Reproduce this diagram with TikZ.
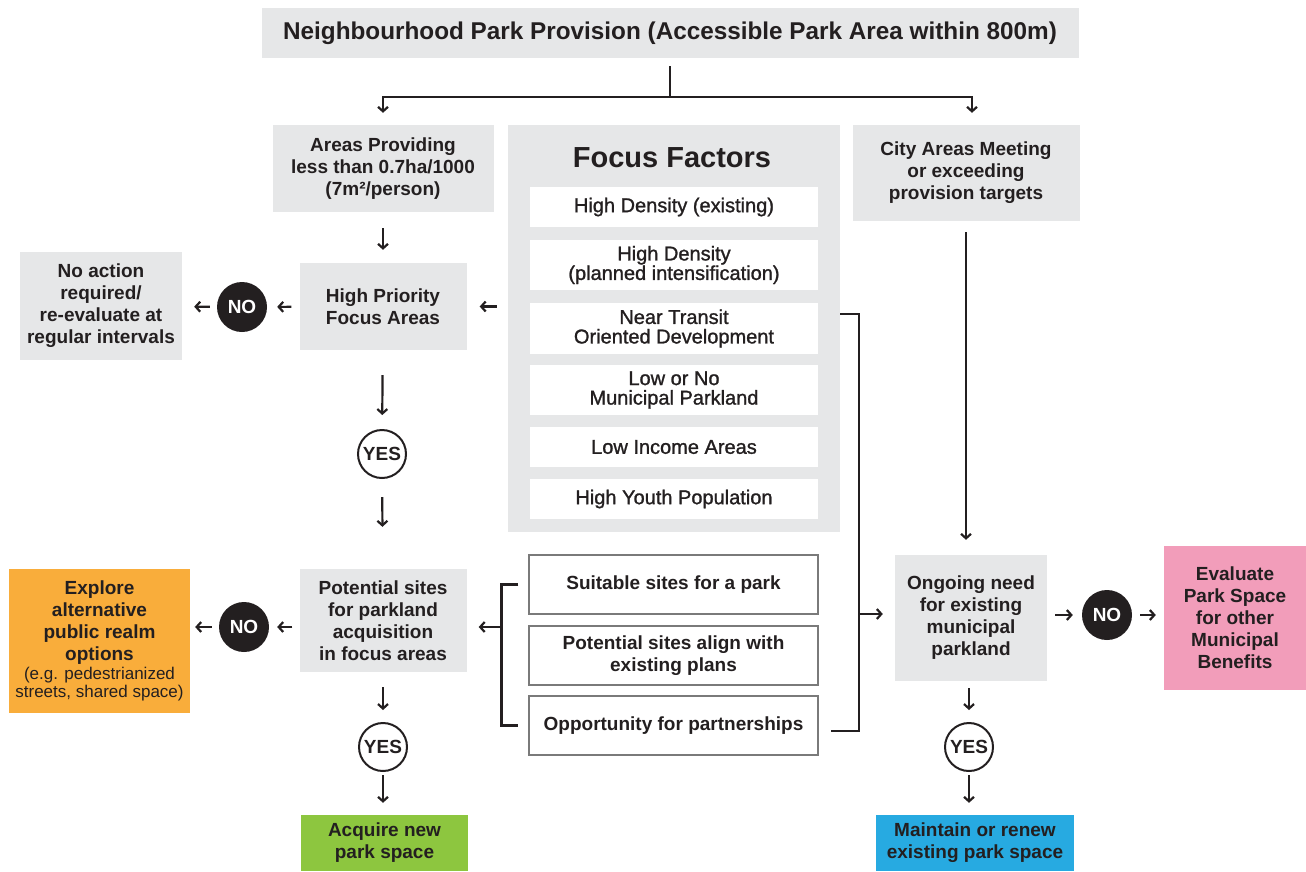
\documentclass[tikz,border=0pt]{standalone}
\usepackage{fontspec}
\setmainfont{Liberation Sans}
\newfontfamily\medfont[FakeBold=1.2]{Liberation Sans}
\usepackage{tikz}
\usetikzlibrary{arrows.meta}
\definecolor{ParkInk}{HTML}{231F20}
\definecolor{ParkGray}{HTML}{E6E7E8}
\definecolor{ParkEdge}{HTML}{7A7A7A}
\definecolor{ParkOrange}{HTML}{F9AD3B}
\definecolor{ParkGreen}{HTML}{8DC63F}
\definecolor{ParkBlue}{HTML}{27AAE1}
\definecolor{ParkPink}{HTML}{F29DBA}
\tikzset{
  flowtext/.style={font=\fontsize{19}{22}\selectfont\bfseries, text=ParkInk, align=center},
  flowbox/.style={flowtext, fill=ParkGray, inner sep=0pt},
  factorbox/.style={font=\medfont\fontsize{20}{19.5}\selectfont, text=ParkInk, fill=white, align=center, minimum width=288pt, inner sep=0pt},
  sitebox/.style={flowtext, fill=white, draw=ParkEdge, line width=1.2pt, minimum width=289pt, minimum height=59pt, inner sep=0pt},
  nodot/.style={circle, fill=ParkInk, text=white, minimum size=50pt, inner sep=0pt, font=\fontsize{19}{22}\selectfont\bfseries},
  yesdot/.style={circle, draw=ParkInk, line width=2pt, fill=white, text=ParkInk, minimum size=48pt, inner sep=0pt, font=\fontsize{19}{22}\selectfont\bfseries},
  flowline/.style={draw=ParkInk, line width=2.2pt},
  flowarrow/.style={flowline, -{Straight Barb[length=4.5pt,width=10pt]}}
}
\newcommand{\parknote}{\mdseries\fontsize{17}{18}\selectfont}

\begin{document}
\begin{tikzpicture}[x=1pt, y=-1pt]
\useasboundingbox (0,0) rectangle (1306,871);
\node[flowbox, font=\fontsize{24.3}{28}\selectfont\bfseries, minimum width=817pt, minimum height=50pt] (title) at (670,33) {Neighbourhood Park Provision (Accessible Park Area within 800m)};
\node[flowbox, minimum width=221pt, minimum height=87pt] (areas) at (383,168.5) {Areas Providing\\less than 0.7ha/1000\\(7m²/person)};
\node[flowbox, minimum width=167pt, minimum height=87pt] (focus) at (383,306.5) {High Priority\\Focus Areas};
\node[nodot] (no1) at (242,307) {NO};
\node[flowbox, minimum width=162pt, minimum height=108pt] (noaction) at (101,306) {No action\\required/\\re-evaluate at\\regular intervals};
\node[yesdot] (yes1) at (382,454) {YES};
\node[flowbox, minimum width=167pt, minimum height=103pt] (sites) at (383,620.5) {Potential sites\\for parkland\\acquisition\\in focus areas};
\node[nodot] (no2) at (244,627) {NO};
\node[flowbox, fill=ParkOrange, minimum width=181pt, minimum height=144pt] (explore) at (99.5,641) {Explore\\alternative\\public realm\\options\\[-3pt]\parknote (e.g. pedestrianized\\[-4pt]\parknote streets, shared space)};
\node[yesdot] (yes2) at (383,747) {YES};
\node[flowbox, fill=ParkGreen, minimum width=167pt, minimum height=56pt] (acquire) at (384.5,843) {Acquire new\\park space};

\node[fill=ParkGray, minimum width=332pt, minimum height=407pt, inner sep=0pt] (panel) at (674,328.5) {};
\node[flowtext, font=\fontsize{29}{32}\selectfont\bfseries] (factors) at (672,158) {Focus Factors};
\node[factorbox, minimum height=40pt] (dense) at (674,207) {High Density (existing)};
\node[factorbox, minimum height=50pt] (planned) at (674,265) {High Density\\(planned intensification)};
\node[factorbox, minimum height=51pt] (transit) at (674,328.5) {Near Transit\\Oriented Development};
\node[factorbox, minimum height=50pt] (parkland) at (674,390) {Low or No\\Municipal Parkland};
\node[factorbox, minimum height=40pt] (income) at (674,447) {Low Income Areas};
\node[factorbox, minimum height=40pt] (youth) at (674,499) {High Youth Population};

\node[sitebox] (suitable) at (673.5,584.5) {Suitable sites for a park};
\node[sitebox] (plans) at (673.5,655.5) {Potential sites align with\\existing plans};
\node[sitebox] (partner) at (673.5,725.5) {Opportunity for partnerships};

\node[flowbox, minimum width=227pt, minimum height=96pt] (city) at (966,173) {City Areas Meeting\\or exceeding\\provision targets};
\node[flowbox, minimum width=152pt, minimum height=126pt] (ongoing) at (971,618) {Ongoing need\\for existing\\municipal\\parkland};
\node[nodot] (no3) at (1107,615) {NO};
\node[flowbox, fill=ParkPink, minimum width=142pt, minimum height=144pt] (evaluate) at (1235,618) {Evaluate\\Park Space\\for other\\Municipal\\Benefits};
\node[yesdot] (yes3) at (969,747) {YES};
\node[flowbox, fill=ParkBlue, minimum width=198pt, minimum height=56pt] (maintain) at (975,843) {Maintain or renew\\existing park space};

\coordinate (split) at (670,97);
\draw[flowline, shorten <=8pt] (title) -- (split);
\draw[flowarrow, shorten >=12pt] (split) -| (areas);
\draw[flowarrow, shorten >=12pt] (split) -| ([xshift=6pt]city.north);

\draw[flowarrow, shorten <=16pt, shorten >=13pt] (areas) -- (focus);
\draw[flowarrow, shorten <=8pt, shorten >=10pt] (focus) -- (no1);
\draw[flowarrow, shorten <=7pt, shorten >=12pt] (no1) -- (noaction);
\draw[flowarrow, shorten <=11pt, shorten >=13pt] (focus -| panel.west) -- (focus);
\draw[flowarrow, shorten <=25pt, shorten >=14pt] (focus) -- (yes1);
\draw[flowarrow, shorten <=18pt, shorten >=42pt] (yes1) -- (sites);
\draw[flowarrow, shorten <=7pt, shorten >=8pt] (no2 -| sites.west) -- (no2);
\draw[flowarrow, shorten <=7pt, shorten >=5pt] (no2) -- (explore.east |- no2);
\draw[flowarrow, shorten <=15pt, shorten >=12pt] (sites) -- (yes2);
\draw[flowarrow, shorten <=3pt, shorten >=12pt] (yes2) -- (yes2 |- acquire.north);

\draw[flowline] ([xshift=-10pt]suitable.west) -- ++(-17,0) coordinate (lbar) |- ([xshift=-10pt]partner.west);
\draw[flowarrow, shorten >=12pt] (lbar |- no2) -- (sites.east |- no2);

\coordinate (rbar) at (859,614);
\draw[flowline] ([yshift=14.5pt]transit.east -| panel.east) -| (rbar) |- ([xshift=12pt,yshift=-5.5pt]partner.east);
\draw[flowarrow, shorten >=12pt] (rbar) -- (rbar -| ongoing.west);

\draw[flowarrow, shorten <=11pt, shorten >=15pt] (city) -- (city |- ongoing.north);
\draw[flowarrow, shorten <=8pt, shorten >=9pt] (ongoing.east |- no3) -- (no3);
\draw[flowarrow, shorten <=8pt, shorten >=8pt] (no3) -- (no3 -| evaluate.west);
\draw[flowarrow, shorten <=7pt, shorten >=12pt] (ongoing.south -| yes3) -- (yes3);
\draw[flowarrow, shorten <=3pt, shorten >=12pt] (yes3) -- (yes3 |- maintain.north);
\end{tikzpicture}
\end{document}
